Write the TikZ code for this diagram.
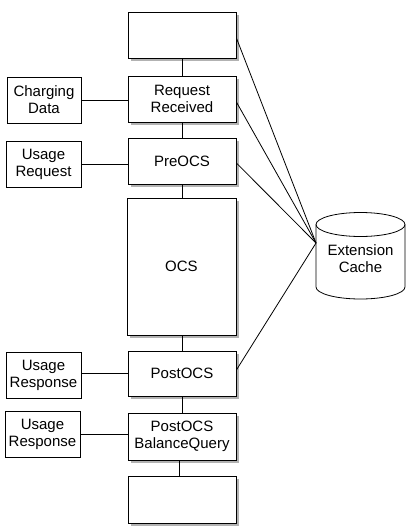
\documentclass[tikz,border=0pt]{standalone}
\usepackage{fontspec}
\setmainfont{Liberation Sans}
\usetikzlibrary{shadows}
\begin{document}
\begin{tikzpicture}[x=1pt,y=-1pt,
  lbl/.style={font=\fontsize{15}{17}\selectfont},
  plainbox/.style={draw, line width=0.8pt, fill=white, inner sep=0pt, align=center, lbl},
  mainbox/.style={plainbox, minimum width=108pt, minimum height=46pt,
     drop shadow={shadow xshift=3pt, shadow yshift=-3pt, fill=black!30, opacity=1}},
  sidebox/.style={plainbox, minimum width=75pt, minimum height=46pt},
  link/.style={line width=0.8pt}]
\useasboundingbox[fill=white] (0,0) rectangle (410,528);
% main column
\node[mainbox] (top) at (182,35) {};
\node[mainbox] (rr) at (182,99) {Request\\Received};
\node[mainbox] (pre) at (182,161) {PreOCS};
\node[mainbox, minimum width=109pt, minimum height=137pt] (ocs) at (181.5,266.5) {OCS};
\node[mainbox, minimum height=45pt] (post) at (182,373.5) {PostOCS};
\node[mainbox, minimum height=47pt] (pbq) at (182,436.5) {PostOCS\\BalanceQuery};
\node[mainbox, minimum height=47pt] (bot) at (182,499.5) {};
% side boxes
\node[sidebox, minimum width=74pt] (cd) at (44,100) {Charging\\Data};
\node[sidebox] (ur) at (43.5,164) {Usage\\Request};
\node[sidebox] (ures1) at (43.5,375) {Usage\\Response};
\node[sidebox] (ures2) at (42.5,434) {Usage\\Response};
% cache
\draw[link, fill=white] (316,224.5) -- (316,287)
  arc[start angle=180, end angle=360, x radius=44.5pt, y radius=12pt] -- (405,224.5)
  arc[start angle=0, end angle=180, x radius=44.5pt, y radius=12pt] -- cycle;
\draw[link] (316,224.5) arc[start angle=180, end angle=360, x radius=44.5pt, y radius=12pt];
\node[lbl, align=center, inner sep=0pt] (cache) at (360.5,259) {Extension\\Cache};
\coordinate (cin) at (316,243);
% vertical connectors
\draw[link] (top.south) -- (rr.north);
\draw[link] (rr.south) -- (pre.north);
\draw[link] (pre.south) -- (pre.south |- ocs.north);
\draw[link] (post.north |- ocs.south) -- (post.north);
\draw[link] (post.south) -- (pbq.north);
\draw[link] ([xshift=-3pt]pbq.south) -- ([xshift=-3pt]bot.north);
% horizontal connectors
\draw[link] (cd.east) -- (cd.east -| rr.west);
\draw[link] (ur.east) -- (ur.east -| pre.west);
\draw[link] (ures1.east |- post.west) -- (post.west);
\draw[link] (ures2.east) -- (ures2.east -| pbq.west);
% cache links
\draw[link] ([yshift=-3pt]top.east) -- (cin);
\draw[link] ([yshift=-3pt]rr.east) -- (cin);
\draw[link] ([yshift=-2pt]pre.east) -- (cin);
\draw[link] ([yshift=3.5pt]post.east) -- (cin);
\end{tikzpicture}
\end{document}
